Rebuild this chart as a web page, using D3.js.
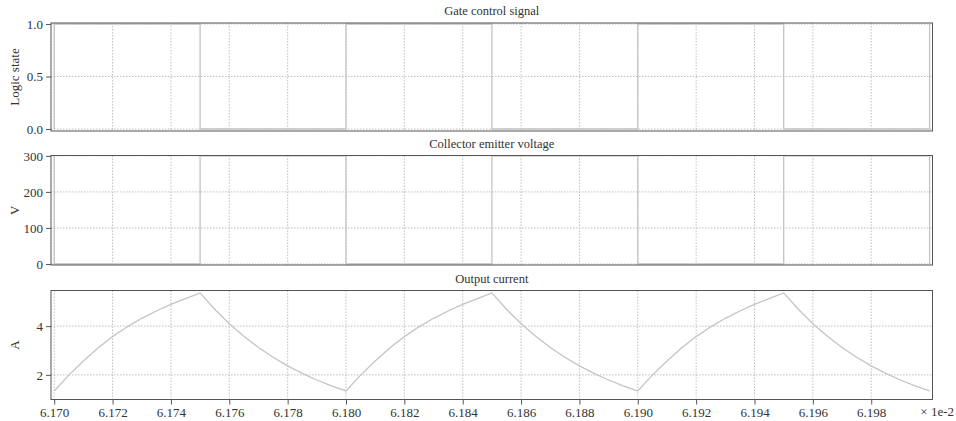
<!DOCTYPE html>
<html lang="en">
  <head>
    <meta charset="utf-8">
    <title>IGBT switching waveforms</title>
    <script src="https://d3js.org/d3.v7.js"></script>
    <style>
      body { margin: 0; background: white; }
      text { font-family: "Liberation Serif", "DejaVu Serif", serif; fill: #333; }
    </style>
  </head>
  <body>
    <script>
    // switching edges (time in units of 1e-2 s)
    const edgeTimes = [6.170, 6.170, 6.175, 6.180, 6.185, 6.190, 6.195, 6.200];
    const gateStates = [0, 1, 0, 1, 0, 1, 0, 1];
    const vceValues = [300, 0, 300, 0, 300, 0, 300, 0];

    // output current samples
    const currentTimes = [
      6.1700, 6.1705, 6.1710, 6.1715, 6.1720, 6.1725, 6.1730, 6.1735, 6.1740, 6.1745,
      6.1750, 6.1755, 6.1760, 6.1765, 6.1770, 6.1775, 6.1780, 6.1785, 6.1790, 6.1795,
      6.1800, 6.1805, 6.1810, 6.1815, 6.1820, 6.1825, 6.1830, 6.1835, 6.1840, 6.1845,
      6.1850, 6.1855, 6.1860, 6.1865, 6.1870, 6.1875, 6.1880, 6.1885, 6.1890, 6.1895,
      6.1900, 6.1905, 6.1910, 6.1915, 6.1920, 6.1925, 6.1930, 6.1935, 6.1940, 6.1945,
      6.1950, 6.1955, 6.1960, 6.1965, 6.1970, 6.1975, 6.1980, 6.1985, 6.1990, 6.1995,
      6.2000
    ];
    const currentValues = [
      1.34, 1.99, 2.57, 3.10, 3.57, 3.97, 4.32, 4.62, 4.89, 5.13,
      5.36, 4.69, 4.10, 3.58, 3.12, 2.72, 2.37, 2.06, 1.79, 1.55,
      1.34, 1.99, 2.57, 3.10, 3.57, 3.97, 4.32, 4.62, 4.89, 5.13,
      5.36, 4.69, 4.10, 3.58, 3.12, 2.72, 2.37, 2.06, 1.79, 1.55,
      1.34, 1.99, 2.57, 3.10, 3.57, 3.97, 4.32, 4.62, 4.89, 5.13,
      5.36, 4.69, 4.10, 3.58, 3.12, 2.72, 2.37, 2.06, 1.79, 1.55,
      1.34
    ];

    const xTicks = [6.170, 6.172, 6.174, 6.176, 6.178, 6.180, 6.182, 6.184,
                    6.186, 6.188, 6.190, 6.192, 6.194, 6.196, 6.198];
    const gateTicks = [0, 0.5, 1];
    const vceTicks = [0, 100, 200, 300];
    const currentTicks = [2, 4];

    const w = 956;
    const h = 421;
    const left = 51, right = 932.5;

    const xScale = d3.scaleLinear()
                     .domain([6.16989, 6.2001])
                     .range([left, right]);

    const panels = [
      {title: "Gate control signal", ylabel: "Logic state", top: 23, bottom: 131,
       domain: [-0.019, 1.0095], ticks: gateTicks, fmt: d3.format(".1f"),
       xs: edgeTimes, ys: gateStates, curve: d3.curveStepAfter, showX: false},
      {title: "Collector emitter voltage", ylabel: "V", top: 155.5, bottom: 265,
       domain: [-2.8, 301], ticks: vceTicks, fmt: d3.format("d"),
       xs: edgeTimes, ys: vceValues, curve: d3.curveStepAfter, showX: false},
      {title: "Output current", ylabel: "A", top: 290.5, bottom: 399.5,
       domain: [0.99, 5.46], ticks: currentTicks, fmt: d3.format("d"),
       xs: currentTimes, ys: currentValues, curve: d3.curveLinear, showX: true}
    ];

    const svg = d3.select("body")
                  .append("svg")
                  .attr("width", w)
                  .attr("height", h);

    svg.append("rect")
       .attr("width", w)
       .attr("height", h)
       .attr("fill", "white");

    panels.forEach(p => {
      const yScale = d3.scaleLinear()
                       .domain(p.domain)
                       .range([p.bottom, p.top]);
      const g = svg.append("g");

      // grid
      g.selectAll(".vgrid")
       .data(xTicks)
       .enter().append("line")
       .attr("x1", d => xScale(d)).attr("x2", d => xScale(d))
       .attr("y1", p.top).attr("y2", p.bottom)
       .attr("stroke", "#b0b0b0")
       .attr("stroke-width", 0.8)
       .attr("stroke-dasharray", "1.5,1.5");

      g.selectAll(".hgrid")
       .data(p.ticks)
       .enter().append("line")
       .attr("x1", left).attr("x2", right)
       .attr("y1", d => yScale(d)).attr("y2", d => yScale(d))
       .attr("stroke", "#b0b0b0")
       .attr("stroke-width", 0.8)
       .attr("stroke-dasharray", "1.5,1.5");

      // data line
      const line = d3.line()
                     .x(d => xScale(d[0]))
                     .y(d => yScale(d[1]))
                     .curve(p.curve);
      g.append("path")
       .datum(p.xs.map((x, i) => [x, p.ys[i]]))
       .attr("d", line)
       .attr("fill", "none")
       .attr("stroke", "#c4c4c4")
       .attr("stroke-width", 1.3);

      // frame
      g.append("rect")
       .attr("x", left).attr("y", p.top)
       .attr("width", right - left).attr("height", p.bottom - p.top)
       .attr("fill", "none")
       .attr("stroke", "#555")
       .attr("stroke-width", 1);

      // y axis
      const yAxis = d3.axisLeft(yScale)
                      .tickValues(p.ticks)
                      .tickFormat(p.fmt)
                      .tickSize(5)
                      .tickPadding(3);
      const ya = g.append("g")
                  .attr("transform", `translate(${left},0)`)
                  .call(yAxis);
      ya.select(".domain").remove();
      ya.selectAll("line").attr("stroke", "#555");
      ya.selectAll("text").attr("font-size", 13).attr("fill", "#333")
        .attr("font-family", "Liberation Serif");

      if (p.showX) {
        const xAxis = d3.axisBottom(xScale)
                        .tickValues(xTicks)
                        .tickFormat(d3.format(".3f"))
                        .tickSize(5)
                        .tickPadding(3);
        const xa = g.append("g")
                    .attr("transform", `translate(0,${p.bottom})`)
                    .call(xAxis);
        xa.select(".domain").remove();
        xa.selectAll("line").attr("stroke", "#555");
        xa.selectAll("text").attr("font-size", 13).attr("fill", "#333")
          .attr("font-family", "Liberation Serif");

        g.append("text")
         .attr("x", 954)
         .attr("y", p.bottom + 16)
         .attr("text-anchor", "end")
         .attr("font-size", 13)
         .text("× 1e-2");
      }

      // title and y label
      g.append("text")
       .attr("x", (left + right) / 2)
       .attr("y", p.top - 8)
       .attr("text-anchor", "middle")
       .attr("font-size", 12.5)
       .text(p.title);

      g.append("text")
       .attr("transform", `translate(19,${(p.top + p.bottom) / 2}) rotate(-90)`)
       .attr("text-anchor", "middle")
       .attr("font-size", 13)
       .text(p.ylabel);
    });
    </script>
  </body>
</html>
